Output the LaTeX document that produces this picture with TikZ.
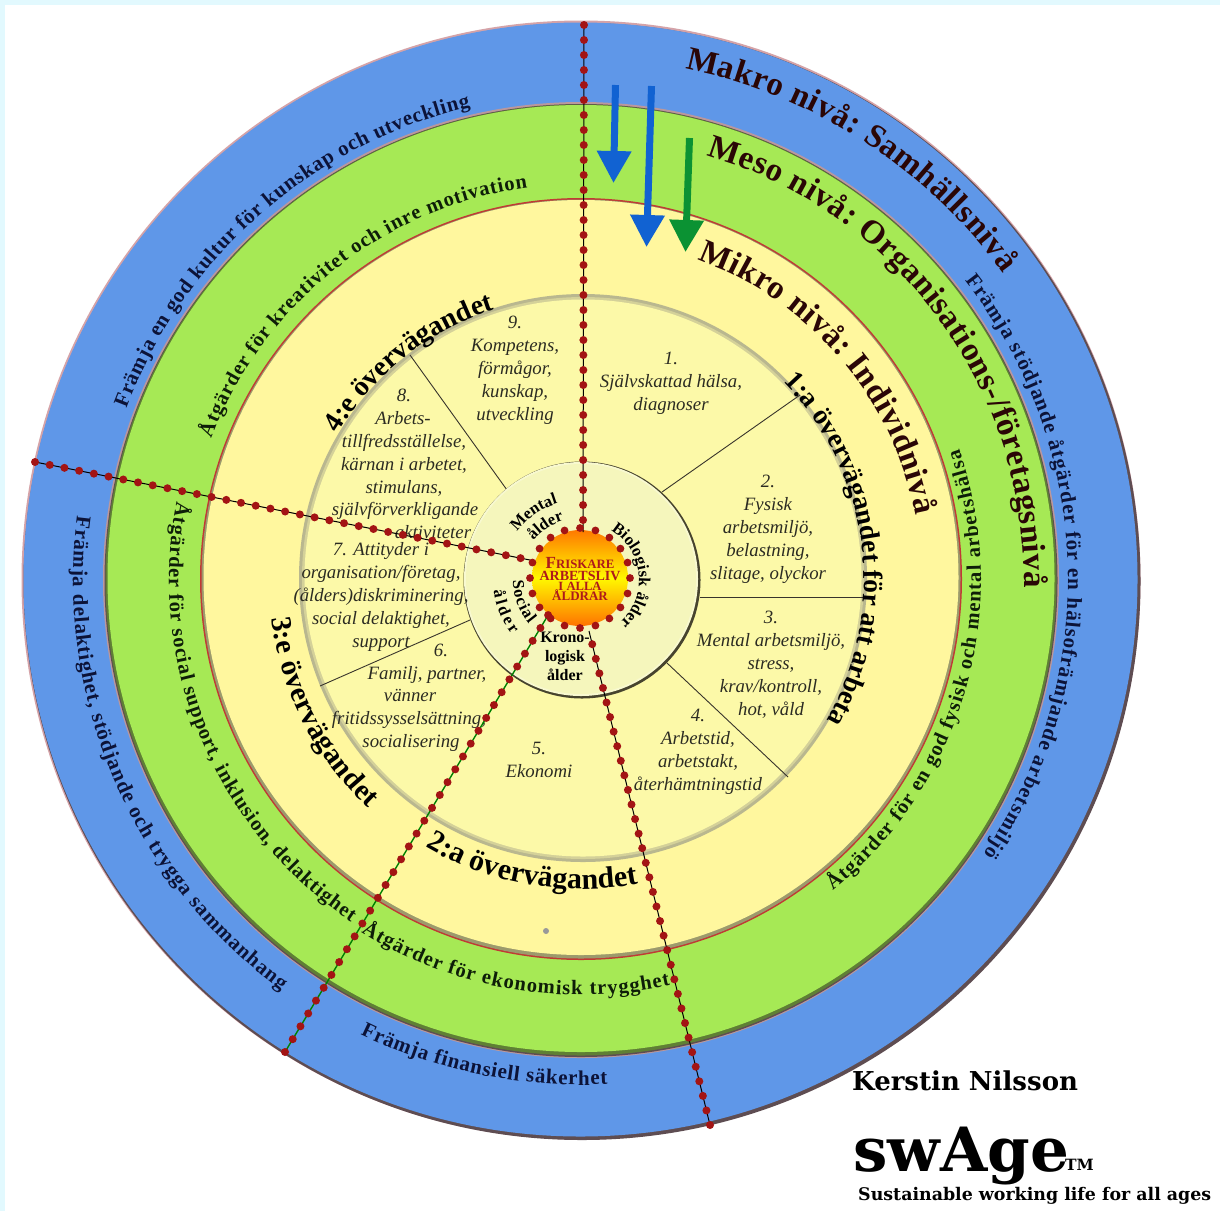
\documentclass[tikz,border=0pt]{standalone}
\usepackage{fontspec}
\setmainfont{Liberation Serif}
\newfontfamily\slabfont{DejaVu Serif}
\usetikzlibrary{decorations.text,arrows.meta}
\definecolor{bgcyan}{HTML}{E2F9FE}
\definecolor{ringblue}{HTML}{5F97E8}
\definecolor{ringgreen}{HTML}{A6E955}
\definecolor{ringyellow}{HTML}{FFF79E}
\definecolor{diskyellow}{HTML}{FCF9A8}
\definecolor{hubyellow}{HTML}{F5F6BC}
\definecolor{rimgray}{HTML}{B9B78F}
\definecolor{rimred}{HTML}{C03A34}
\definecolor{rimpink}{HTML}{D5A3A8}
\definecolor{rimdark}{HTML}{5E4D52}
\definecolor{greenedge}{HTML}{5F7F35}
\definecolor{yellowedge}{HTML}{9C9A6C}
\definecolor{dotred}{HTML}{A31414}
\definecolor{arrowblue}{HTML}{1162D2}
\definecolor{arrowgreen}{HTML}{0B9233}
\definecolor{darkbrown}{HTML}{2A0606}
\definecolor{sunred}{HTML}{AE1A1A}
\definecolor{itxt}{HTML}{2B2B22}
\definecolor{navytxt}{HTML}{0C1338}
\definecolor{greentxt}{HTML}{0E1E08}
\newcommand{\arctxt}[5]{\path[decorate,decoration={text along path,text align=fit to path,text={|#4|#5}}] (#2:#1) arc[start angle=#2,end angle=#3,radius=#1];}
\newcommand{\fntA}{\bfseries\color{darkbrown}\fontsize{33}{33}\selectfont}
\newcommand{\fntBa}{\bfseries\color{black}\fontsize{27.5}{28}\selectfont}
\newcommand{\fntBb}{\bfseries\color{black}\fontsize{30}{30}\selectfont}
\newcommand{\fntBc}{\bfseries\color{black}\fontsize{29}{29}\selectfont}
\newcommand{\fntBd}{\bfseries\color{black}\fontsize{28}{28}\selectfont}
\newcommand{\fntCb}{\bfseries\color{navytxt}\fontsize{21}{21}\selectfont}
\newcommand{\fntCg}{\bfseries\color{greentxt}\fontsize{20.5}{21}\selectfont}
\newcommand{\fntE}{\bfseries\color{black}\fontsize{16.5}{17}\selectfont}
\tikzset{
  radial/.style={draw=black!80!olive,line width=0.9pt},
  dotbase/.style={draw=black,line width=1pt},
  dotgreen/.style={draw=green!50!black,line width=1.4pt},
  dotline/.style={draw=dotred,line width=8pt,line cap=round,dash pattern=on 0pt off 15pt},
  item/.style={font=\itshape\fontsize{18.8}{23}\selectfont,text=itxt,align=center,inner sep=0pt},
  itemline/.style={font=\itshape\fontsize{18.8}{23}\selectfont,text=itxt,anchor=base,inner sep=0pt},
  hubtxt/.style={font=\bfseries\fontsize{16}{19}\selectfont,align=center,inner sep=0pt},
  suntxt/.style={text=sunred,anchor=base,inner sep=0pt},
  brand/.style={text=black,anchor=base west,inner sep=0pt},
  shaftblue/.style={draw=arrowblue,line width=7pt,-{Triangle[length=32pt,width=33pt]}},
  shaftgreen/.style={draw=arrowgreen,line width=7pt,-{Triangle[length=32pt,width=33pt]}}
}
\begin{document}
\begin{tikzpicture}[x=1pt,y=1pt]
\useasboundingbox (0,-1211) rectangle (1220,0);
\fill[white] (0,-1211) rectangle (1220,0);
\fill[bgcyan] (0,-5) rectangle (1220,0);
\fill[bgcyan] (0,-1211) rectangle (5,0);
% rings
\fill[rimpink] (581,-580) circle (559.5);
\fill[rimdark] (582,-581.5) circle (558.5);
\fill[ringblue] (580.5,-579.5) circle (557);
\fill[rimpink!70!gray] (581,-580) circle (478);
\fill[rimdark] (581,-580.5) circle (476.5);
\fill[greenedge] (581,-580) circle (475.5);
\fill[ringgreen] (581,-578.5) circle (473.5);
\fill[rimred] (581,-579) circle (381);
\fill[yellowedge] (581,-579) circle (379.5);
\fill[ringyellow] (581,-577.5) circle (377.5);
% inner disk
\fill[rimgray] (583,-578) circle (284);
\fill[rimgray!60!diskyellow] (583,-578) circle (281);
\fill[diskyellow] (583,-578) circle (278.5);
% radial lines
\coordinate (r1a) at (662,-492); \coordinate (r1b) at (800,-395);
\coordinate (r2a) at (700,-597); \coordinate (r2b) at (868,-597);
\coordinate (r3a) at (667,-663); \coordinate (r3b) at (788,-777);
\coordinate (r4a) at (470,-620); \coordinate (r4b) at (320,-686);
\coordinate (r5a) at (507,-490); \coordinate (r5b) at (410,-355);
\foreach \p in {1,...,5}{\draw[radial] (r\p a) -- (r\p b);}
% hub
\fill[black!65!olive] (582,-580) circle (118.5);
\fill[hubyellow!70!white] (581,-579) circle (117);
\fill[hubyellow] (581,-579) circle (115);
% item texts
\node[item] (t1) at (671,-383) {1.\\Självskattad hälsa,\\diagnoser};
\node[item] (t2) at (768,-529) {2.\\Fysisk\\arbetsmiljö,\\belastning,\\slitage, olyckor};
\node[item] (t3) at (771,-665) {3.\\Mental arbetsmiljö,\\stress,\\krav/kontroll,\\hot, våld};
\node[item] (t4) at (698,-752) {4.\\Arbetstid,\\arbetstakt,\\återhämtningstid};
\node[item] (t5) at (539,-760) {5.\\Ekonomi};
\node[itemline] (t6a) at (441,-656) {6.};
\node[itemline] (t6b) at (427,-679) {Familj, partner,};
\node[itemline] (t6c) at (410,-701) {vänner};
\node[itemline] (t6d) at (409,-724) {fritidssysselsättning,};
\node[itemline] (t6e) at (411,-747) {socialisering};
\node[item] (t7) at (381,-597) {7. Attityder i\\organisation/företag,\\(ålders)diskriminering,\\social delaktighet,\\support};
\node[itemline] (t8a) at (404,-401) {8.};
\node[itemline] (t8b) at (403,-424) {Arbets-};
\node[itemline] (t8c) at (404,-447) {tillfredsställelse,};
\node[itemline] (t8d) at (404,-470) {kärnan i arbetet,};
\node[itemline] (t8e) at (404,-493) {stimulans,};
\node[itemline] (t8f) at (405,-515) {självförverkligande};
\node[itemline] (t8g) at (433,-538) {aktiviteter};
\node[item] (t9) at (515,-370) {9.\\Kompetens,\\förmågor,\\kunskap,\\utveckling};
% small grey dot
\fill[gray!80] (546,-931) circle (3);
% curved texts
\begin{scope}[shift={(581,-580)}]
\arctxt{522}{78.5}{36}{\fntA}{Makro nivå: Samhällsnivå}
\arctxt{443}{73.5}{-1}{\fntA}{Meso nivå: Organisations-/företagsnivå}
\arctxt{341}{70}{11}{\fntA}{Mikro nivå: Individnivå}
\arctxt{283}{44.4}{-29.7}{\fntBa}{1:a övervägandet för att arbeta}
\arctxt{309}{-120.3}{-79.4}{\fntBb}{2:a övervägandet}
\arctxt{312}{187}{227}{\fntBc}{3:e övervägandet}
\arctxt{284}{149}{108}{\fntBd}{4:e övervägandet}
\arctxt{486}{159.3}{103.2}{\fntCb}{Främja en god kultur för kunskap och utveckling}
\arctxt{396}{159}{97.8}{\fntCg}{Åtgärder för kreativitet och inre motivation}
\arctxt{487}{38}{-34.2}{\fntCb}{Främja stödjande åtgärder för en hälsofrämjande arbetsmiljö}
\arctxt{400}{-51}{19}{\fntCg}{Åtgärder för en god fysisk och mental arbetshälsa}
\arctxt{412}{169}{236}{\fntCg}{Åtgärder för social support, inklusion, delaktighet}
\arctxt{415}{-122}{-77.6}{\fntCg}{Åtgärder för ekonomisk trygghet}
\arctxt{508}{172.7}{233.8}{\fntCb}{Främja delaktighet, stödjande och trygga sammanhang}
\arctxt{505}{-115.9}{-87}{\fntCb}{Främja finansiell säkerhet}
\arctxt{58}{59}{-48}{\fntE}{Biologisk ålder}
\arctxt{80}{143}{107}{\fntE}{Mental}
\arctxt{62}{140}{107}{\fntE}{ålder}
\arctxt{68}{180}{220}{\fntE}{Social}
\arctxt{88}{187}{218}{\fntE}{ålder}
\end{scope}
\node[hubtxt] (krono) at (565,-656) {Krono-\\logisk\\ålder};
% arrows
\coordinate (a1s) at (615.5,-85); \coordinate (a1e) at (613.5,-183);
\coordinate (a2s) at (651.5,-86); \coordinate (a2e) at (646.5,-247);
\coordinate (a3s) at (689.5,-138); \coordinate (a3e) at (685.5,-252);
\draw[shaftblue] (a1s) -- (a1e);
\draw[shaftblue] (a2s) -- (a2e);
\draw[shaftgreen] (a3s) -- (a3e);
% sun
\coordinate (sun) at (580,-578);
\shade[top color=orange!95!red,bottom color=orange!90!red,middle color=yellow!95!orange] (sun) circle (48);
% dotted spokes
\coordinate (v0) at (584,-25); \coordinate (v1) at (583,-532);
\coordinate (l0) at (35,-462); \coordinate (l1) at (535,-561);
\coordinate (b0) at (285,-1052); \coordinate (b1) at (550,-612);
\coordinate (d0) at (710,-1125); \coordinate (d1) at (589,-631);
\draw[dotbase] (v0) -- (v1); \draw[dotline] (v0) -- (v1);
\draw[dotbase] (l0) -- (l1); \draw[dotline] (l0) -- (l1);
\draw[dotgreen] (b0) -- (b1); \draw[dotline] (b0) -- (b1);
\draw[dotbase] (d0) -- (d1); \draw[dotline] (d0) -- (d1);
\foreach \a in {0,18,...,342}{\fill[dotred] (sun) ++(\a:50) circle (3.9);}
% sun text
\node[suntxt,font=\bfseries\fontsize{12.8}{13}\selectfont] (s1) at (580,-568) {{\fontsize{17}{17}\selectfont F}RISKARE};
\node[suntxt,font=\bfseries\fontsize{14}{14}\selectfont] (s2) at (580,-580) {ARBETSLIV};
\node[suntxt,font=\bfseries\fontsize{12.6}{13}\selectfont] (s3) at (580,-590) {I ALLA};
\node[suntxt,font=\bfseries\fontsize{13}{13}\selectfont] (s4) at (580,-600) {ÅLDRAR};
% brand
\node[brand,font=\slabfont\bfseries\fontsize{26}{26}\selectfont] (kn) at (852,-1090) {Kerstin Nilsson};
\node[brand,font=\slabfont\bfseries\fontsize{61}{61}\selectfont] (sw) at (853,-1171) {swAge};
\node[brand,font=\slabfont\bfseries\fontsize{15.5}{16}\selectfont] (tm) at (1065,-1170) {TM};
\node[brand,font=\slabfont\bfseries\fontsize{17.4}{18}\selectfont] (sl) at (858,-1200) {Sustainable working life for all ages};
\end{tikzpicture}
\end{document}
